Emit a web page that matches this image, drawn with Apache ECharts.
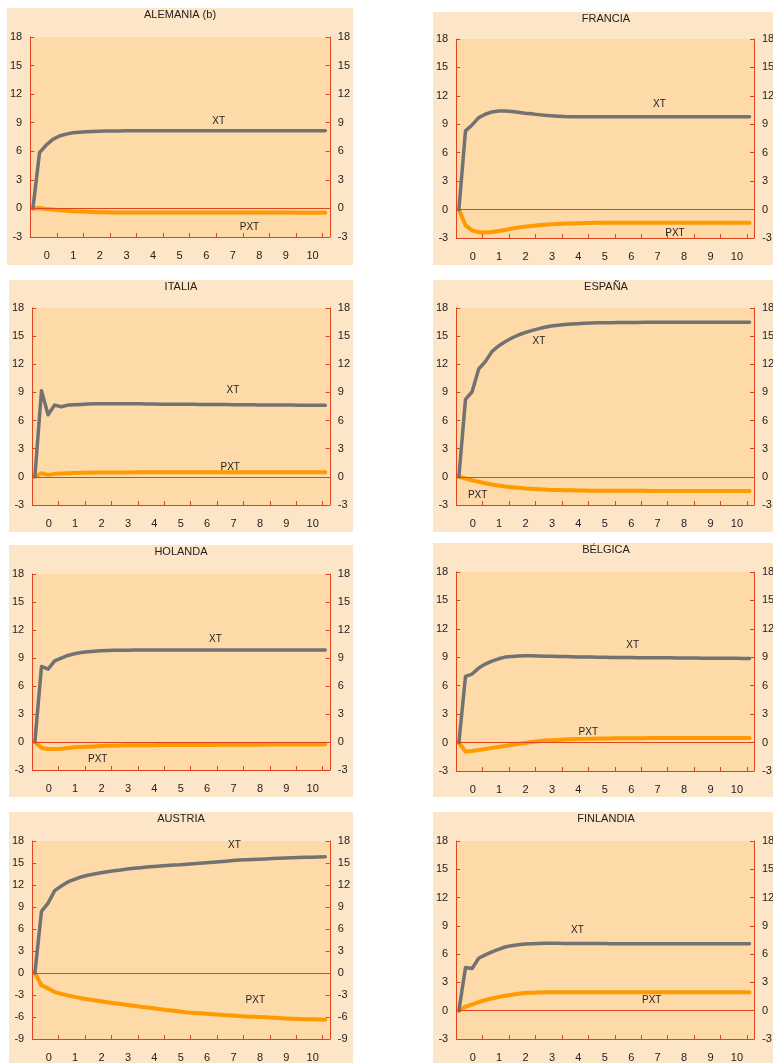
<!DOCTYPE html>
<html>
<head>
<meta charset="utf-8">
<script src="https://cdn.jsdelivr.net/npm/echarts@6/dist/echarts.min.js"></script>
<style>
html, body { margin: 0; padding: 0; background: #fff; width: 773px; height: 1063px; overflow: hidden; }
.panel { position: absolute; background: #FDE6C8; }
</style>
</head>
<body>
<script>
// quarterly responses, 45 quarters (year 0 .. year 10)
const alemaniaXT = [0, 5.85, 6.65, 7.25, 7.6, 7.8, 7.95, 8.0, 8.05, 8.08,
  8.1, 8.12, 8.13, 8.14, 8.15, 8.15, 8.15, 8.15, 8.15, 8.15,
  8.15, 8.15, 8.15, 8.15, 8.15, 8.15, 8.15, 8.15, 8.15, 8.15,
  8.15, 8.15, 8.15, 8.15, 8.15, 8.15, 8.15, 8.15, 8.15, 8.15,
  8.15, 8.15, 8.15, 8.15, 8.15];
const alemaniaPXT = [0, 0.05, -0.05, -0.12, -0.2, -0.25, -0.3, -0.33, -0.36, -0.38,
  -0.4, -0.41, -0.42, -0.42, -0.43, -0.43, -0.43, -0.43, -0.43, -0.43,
  -0.43, -0.43, -0.43, -0.43, -0.43, -0.44, -0.44, -0.44, -0.44, -0.44,
  -0.44, -0.44, -0.44, -0.44, -0.44, -0.44, -0.44, -0.44, -0.44, -0.44,
  -0.45, -0.45, -0.45, -0.45, -0.45];

const franciaXT = [0, 8.3, 8.93, 9.7, 10.06, 10.3, 10.41, 10.41, 10.34, 10.27,
  10.17, 10.1, 10.02, 9.95, 9.9, 9.85, 9.81, 9.8, 9.8, 9.8,
  9.8, 9.8, 9.8, 9.8, 9.8, 9.8, 9.8, 9.8, 9.8, 9.8,
  9.8, 9.8, 9.8, 9.8, 9.8, 9.8, 9.8, 9.8, 9.8, 9.8,
  9.8, 9.8, 9.8, 9.8, 9.8];
const franciaPXT = [0, -1.66, -2.19, -2.4, -2.43, -2.37, -2.26, -2.15, -2.01, -1.9,
  -1.8, -1.73, -1.66, -1.6, -1.55, -1.52, -1.48, -1.46, -1.45, -1.43,
  -1.41, -1.4, -1.4, -1.4, -1.4, -1.4, -1.4, -1.4, -1.4, -1.4,
  -1.39, -1.39, -1.39, -1.39, -1.39, -1.39, -1.39, -1.39, -1.39, -1.39,
  -1.38, -1.38, -1.38, -1.38, -1.38];

const italiaXT = [0, 9.18, 6.62, 7.65, 7.47, 7.65, 7.69, 7.72, 7.76, 7.78,
  7.8, 7.8, 7.8, 7.8, 7.8, 7.79, 7.78, 7.77, 7.76, 7.75,
  7.75, 7.74, 7.74, 7.73, 7.73, 7.72, 7.72, 7.71, 7.7, 7.7,
  7.69, 7.69, 7.68, 7.68, 7.67, 7.67, 7.66, 7.66, 7.65, 7.65,
  7.64, 7.64, 7.63, 7.63, 7.62];
const italiaPXT = [0, 0.39, 0.21, 0.32, 0.36, 0.39, 0.41, 0.43, 0.44, 0.46,
  0.46, 0.47, 0.47, 0.47, 0.47, 0.48, 0.48, 0.48, 0.48, 0.48,
  0.48, 0.48, 0.48, 0.48, 0.48, 0.48, 0.48, 0.48, 0.48, 0.48,
  0.48, 0.48, 0.48, 0.48, 0.48, 0.48, 0.48, 0.48, 0.48, 0.48,
  0.48, 0.48, 0.48, 0.48, 0.48];

const espanaXT = [0, 8.26, 9.07, 11.5, 12.28, 13.35, 13.95, 14.41, 14.8, 15.12,
  15.37, 15.59, 15.77, 15.94, 16.09, 16.16, 16.23, 16.3, 16.33, 16.37,
  16.4, 16.42, 16.43, 16.44, 16.45, 16.45, 16.46, 16.46, 16.47, 16.47,
  16.47, 16.47, 16.47, 16.47, 16.47, 16.47, 16.47, 16.47, 16.47, 16.47,
  16.48, 16.48, 16.48, 16.48, 16.48];
const espanaPXT = [0, -0.18, -0.36, -0.53, -0.68, -0.82, -0.93, -1.03, -1.1, -1.17,
  -1.25, -1.28, -1.32, -1.35, -1.39, -1.4, -1.42, -1.44, -1.46, -1.46,
  -1.47, -1.47, -1.48, -1.48, -1.48, -1.49, -1.49, -1.49, -1.49, -1.5,
  -1.5, -1.5, -1.5, -1.5, -1.5, -1.5, -1.5, -1.5, -1.5, -1.5,
  -1.5, -1.5, -1.5, -1.5, -1.5];

const holandaXT = [0, 8.09, 7.8, 8.69, 8.98, 9.27, 9.45, 9.59, 9.66, 9.73,
  9.77, 9.8, 9.82, 9.84, 9.84, 9.85, 9.85, 9.85, 9.85, 9.85,
  9.85, 9.85, 9.86, 9.86, 9.86, 9.86, 9.86, 9.86, 9.86, 9.86,
  9.86, 9.86, 9.86, 9.86, 9.86, 9.87, 9.87, 9.87, 9.87, 9.87,
  9.87, 9.87, 9.87, 9.87, 9.87];
const holandaPXT = [0, -0.61, -0.75, -0.75, -0.72, -0.64, -0.57, -0.54, -0.5, -0.47,
  -0.43, -0.41, -0.39, -0.38, -0.36, -0.35, -0.35, -0.34, -0.34, -0.33,
  -0.33, -0.33, -0.32, -0.32, -0.32, -0.31, -0.31, -0.31, -0.3, -0.3,
  -0.3, -0.3, -0.29, -0.29, -0.29, -0.28, -0.28, -0.28, -0.28, -0.27,
  -0.27, -0.27, -0.26, -0.26, -0.25];

const belgicaXT = [0, 6.98, 7.23, 7.86, 8.28, 8.6, 8.84, 9.02, 9.09, 9.14,
  9.16, 9.16, 9.14, 9.12, 9.1, 9.09, 9.07, 9.05, 9.04, 9.03,
  9.02, 9.01, 9.0, 8.99, 8.98, 8.97, 8.97, 8.96, 8.96, 8.95,
  8.95, 8.94, 8.94, 8.93, 8.93, 8.92, 8.92, 8.91, 8.91, 8.9,
  8.9, 8.89, 8.89, 8.88, 8.88];
const belgicaPXT = [0, -0.95, -0.88, -0.77, -0.67, -0.56, -0.46, -0.35, -0.25, -0.14,
  -0.04, 0.07, 0.14, 0.21, 0.25, 0.28, 0.32, 0.35, 0.37, 0.39,
  0.4, 0.42, 0.43, 0.44, 0.45, 0.45, 0.46, 0.46, 0.46, 0.47,
  0.47, 0.47, 0.47, 0.48, 0.48, 0.48, 0.48, 0.48, 0.48, 0.49,
  0.49, 0.49, 0.49, 0.49, 0.49];

const austriaXT = [0, 8.4, 9.53, 11.24, 11.87, 12.42, 12.78, 13.09, 13.32, 13.5,
  13.68, 13.81, 13.95, 14.04, 14.18, 14.27, 14.36, 14.45, 14.51, 14.58,
  14.65, 14.72, 14.76, 14.83, 14.9, 14.97, 15.04, 15.11, 15.18, 15.25,
  15.33, 15.4, 15.44, 15.48, 15.52, 15.56, 15.6, 15.64, 15.68, 15.71,
  15.74, 15.77, 15.8, 15.83, 15.85];
const austriaPXT = [0, -1.67, -2.1, -2.6, -2.85, -3.05, -3.25, -3.43, -3.58, -3.72,
  -3.86, -3.99, -4.12, -4.24, -4.36, -4.47, -4.59, -4.7, -4.82, -4.93,
  -5.04, -5.15, -5.26, -5.37, -5.44, -5.5, -5.57, -5.63, -5.69, -5.75,
  -5.81, -5.87, -5.92, -5.96, -6.01, -6.05, -6.1, -6.14, -6.19, -6.23,
  -6.26, -6.29, -6.32, -6.35, -6.37];

const finlandiaXT = [0, 4.58, 4.47, 5.56, 5.92, 6.23, 6.51, 6.76, 6.9, 7.0,
  7.08, 7.11, 7.13, 7.15, 7.15, 7.15, 7.14, 7.14, 7.13, 7.13,
  7.12, 7.12, 7.12, 7.11, 7.11, 7.11, 7.11, 7.1, 7.1, 7.1,
  7.1, 7.1, 7.1, 7.1, 7.1, 7.1, 7.1, 7.1, 7.1, 7.1,
  7.1, 7.1, 7.1, 7.1, 7.1];
const finlandiaPXT = [0, 0.42, 0.67, 0.92, 1.13, 1.3, 1.44, 1.58, 1.69, 1.8,
  1.87, 1.9, 1.94, 1.95, 1.96, 1.97, 1.97, 1.97, 1.97, 1.97,
  1.97, 1.97, 1.97, 1.97, 1.97, 1.97, 1.97, 1.97, 1.97, 1.97,
  1.97, 1.97, 1.97, 1.97, 1.97, 1.97, 1.97, 1.97, 1.97, 1.97,
  1.97, 1.97, 1.97, 1.97, 1.97];

const yearLabels = ['0', '1', '2', '3', '4', '5', '6', '7', '8', '9', '10'];

// box: [left, top, width, height] of the panel; grid: plot area inside the panel
const panels = [
  { name: 'ALEMANIA (b)', xt: alemaniaXT, pxt: alemaniaPXT, yMin: -3, box: [7, 8, 346, 257], grid: [22, 29, 301, 200], xtAt: [7.09, 9.14], pxtAt: [8.25, -1.93] },
  { name: 'FRANCIA', xt: franciaXT, pxt: franciaPXT, yMin: -3, box: [433, 12, 346, 253], grid: [21, 27, 300, 199], xtAt: [7.69, 11.15], pxtAt: [8.28, -2.47] },
  { name: 'ITALIA', xt: italiaXT, pxt: italiaPXT, yMin: -3, box: [9, 280, 344, 252], grid: [23, 28, 299, 197], xtAt: [7.6, 9.18], pxtAt: [7.5, 1.07] },
  { name: 'ESPAÑA', xt: espanaXT, pxt: espanaPXT, yMin: -3, box: [433, 280, 346, 252], grid: [22, 28, 299, 197], xtAt: [3.13, 14.48], pxtAt: [0.81, -1.96] },
  { name: 'HOLANDA', xt: holandaXT, pxt: holandaPXT, yMin: -3, box: [9, 545, 344, 252], grid: [23, 29, 299, 196], xtAt: [6.94, 11.06], pxtAt: [2.48, -1.82] },
  { name: 'BÉLGICA', xt: belgicaXT, pxt: belgicaPXT, yMin: -3, box: [433, 543, 346, 254], grid: [21, 29, 300, 199], xtAt: [6.68, 10.32], pxtAt: [5.0, 1.12] },
  { name: 'AUSTRIA', xt: austriaXT, pxt: austriaPXT, yMin: -9, box: [9, 812, 344, 251], grid: [23, 29, 299, 199], xtAt: [7.66, 17.43], pxtAt: [8.45, -3.7] },
  { name: 'FINLANDIA', xt: finlandiaXT, pxt: finlandiaPXT, yMin: -3, box: [433, 812, 346, 251], grid: [21, 29, 300, 199], xtAt: [4.59, 8.52], pxtAt: [7.4, 1.16] }
];

const axisColor = '#E0441C';
const font = 'Liberation Sans, Arial, sans-serif';

function toPoints(arr) {
  // first quarter sits just right of the left axis
  return arr.map((v, i) => [0.1 + 0.25 * i, v]);
}

function yAxisOf(pos, yMin) {
  return {
    type: 'value', position: pos, min: yMin, max: 18, interval: 3,
    axisLine: { show: true, onZero: false, lineStyle: { color: axisColor, width: 1 } },
    axisTick: { show: true, inside: true, length: 4, lineStyle: { color: axisColor } },
    axisLabel: { color: '#222', fontSize: 11, margin: 8, fontFamily: font },
    splitLine: { show: false }
  };
}

function labelPoint(name, at) {
  return {
    symbol: 'circle', symbolSize: 1, silent: true,
    itemStyle: { color: 'rgba(0,0,0,0)' },
    label: { show: true, position: 'inside', formatter: name, color: '#222', fontSize: 10, fontFamily: font },
    data: [{ coord: at }]
  };
}

panels.forEach(p => {
  let div = document.createElement('div');
  div.className = 'panel';
  div.style.left = p.box[0] + 'px';
  div.style.top = p.box[1] + 'px';
  div.style.width = p.box[2] + 'px';
  div.style.height = p.box[3] + 'px';
  document.body.appendChild(div);

  let myChart = echarts.init(div);
  let option = {
    animation: false,
    textStyle: { fontFamily: font },
    title: {
      text: p.name, left: 'center', top: 1, padding: 0,
      textStyle: { fontSize: 11, fontWeight: 'normal', color: '#222', fontFamily: font }
    },
    grid: {
      left: p.grid[0], top: p.grid[1], width: p.grid[2], height: p.grid[3],
      show: true, backgroundColor: '#FDDAA7', borderWidth: 0
    },
    xAxis: {
      type: 'value', min: 0, max: 11.27, interval: 1,
      axisLine: { show: true, onZero: false, lineStyle: { color: axisColor, width: 1 } },
      axisTick: { show: true, inside: true, length: 4, lineStyle: { color: axisColor } },
      axisLabel: {
        color: '#222', fontSize: 11, margin: 13, fontFamily: font,
        padding: [0, 0, 0, 33],
        formatter: v => (Number.isInteger(v) && v < yearLabels.length) ? yearLabels[v] : ''
      },
      splitLine: { show: false }
    },
    yAxis: [yAxisOf('left', p.yMin), yAxisOf('right', p.yMin)],
    series: [
      {
        name: 'PXT', type: 'line', data: toPoints(p.pxt), showSymbol: false,
        lineStyle: { color: '#FF9A00', width: 4, cap: 'round', join: 'round' },
        itemStyle: { color: '#FF9A00' },
        markLine: {
          silent: true, symbol: 'none', label: { show: false },
          lineStyle: { color: axisColor, width: 1, type: 'solid' },
          data: [{ yAxis: 0 }]
        },
        markPoint: labelPoint('PXT', p.pxtAt)
      },
      {
        name: 'XT', type: 'line', data: toPoints(p.xt), showSymbol: false,
        lineStyle: { color: '#727272', width: 3.5, cap: 'round', join: 'round' },
        itemStyle: { color: '#727272' },
        markPoint: labelPoint('XT', p.xtAt)
      }
    ]
  };
  option && myChart.setOption(option);
});
</script>
</body>
</html>
